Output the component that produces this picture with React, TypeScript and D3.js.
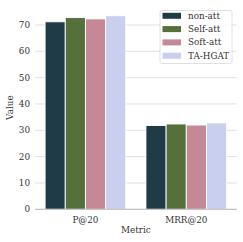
import React from "react";
import * as d3 from "d3";

const metrics = ["P@20", "MRR@20"];
const models = ["non-att", "Self-att", "Soft-att", "TA-HGAT"];
const nonAtt = [71.2, 31.8];
const selfAtt = [72.8, 32.4];
const softAtt = [72.3, 32.0];
const taHgat = [73.5, 32.8];
const colors = ["#203b48", "#56703b", "#c58896", "#c9cfee"];
const yTicks = [0, 10, 20, 30, 40, 50, 60, 70];

const W = 243, H = 242;
const left = 35, right = 236.7, top = 6, bottom = 209.3;
const font = "DejaVu Serif, serif";
const fs = 8.8;

export default function App() {
  const series = [nonAtt, selfAtt, softAtt, taHgat];
  const x = d3.scaleBand().domain(metrics).range([left, right]).paddingInner(0).paddingOuter(0);
  const inner = d3.scaleBand().domain(models).range([0, x.bandwidth() * 0.8]);
  const y = d3.scaleLinear().domain([0, 77.2]).range([bottom, top]);
  const off = x.bandwidth() * 0.1;
  return (
    <svg width={W} height={H} style={{ position: "absolute", left: 0, top: 0, background: "#fff" }}>
      {yTicks.map((t) => (
        <g key={t}>
          <line x1={left} x2={right} y1={y(t)} y2={y(t)} stroke="#dddddd" strokeWidth={0.9} />
          <text x={left - 5} y={y(t)} dy="0.35em" textAnchor="end" fontFamily={font} fontSize={fs} fill="#333">{t}</text>
        </g>
      ))}
      {series.map((vals, si) =>
        metrics.map((m, mi) => (
          <rect
            key={`${si}-${mi}`}
            x={(x(m) as number) + off + (inner(models[si]) as number)}
            y={y(vals[mi])}
            width={inner.bandwidth()}
            height={bottom - y(vals[mi])}
            fill={colors[si]}
            stroke="#fff"
            strokeWidth={0.9}
          />
        ))
      )}
      <line x1={left} x2={right} y1={bottom} y2={bottom} stroke="#bbbbbb" strokeWidth={1} />
      {metrics.map((m) => (
        <text key={m} x={(x(m) as number) + x.bandwidth() / 2} y={219.5} dy="0.35em" textAnchor="middle" fontFamily={font} fontSize={fs} fill="#333">{m}</text>
      ))}
      <text x={(left + right) / 2} y={230} dy="0.35em" textAnchor="middle" fontFamily={font} fontSize={fs} fill="#333">Metric</text>
      <text transform={`translate(9.5,${(top + bottom) / 2}) rotate(-90)`} textAnchor="middle" dy="0.35em" fontFamily={font} fontSize={fs} fill="#333">Value</text>
      <g>
        <rect x={160} y={10.5} width={72} height={53} rx={2} fill="#fff" fillOpacity={0.85} stroke="#d8d8d8" strokeWidth={0.8} />
        {models.map((md, i) => (
          <g key={md}>
            <rect x={162.5} y={12.8 + i * 13.3} width={18.5} height={6} fill={colors[i]} />
            <text x={188} y={15.8 + i * 13.3} dy="0.35em" fontFamily={font} fontSize={fs} fill="#333">{md}</text>
          </g>
        ))}
      </g>
    </svg>
  );
}
